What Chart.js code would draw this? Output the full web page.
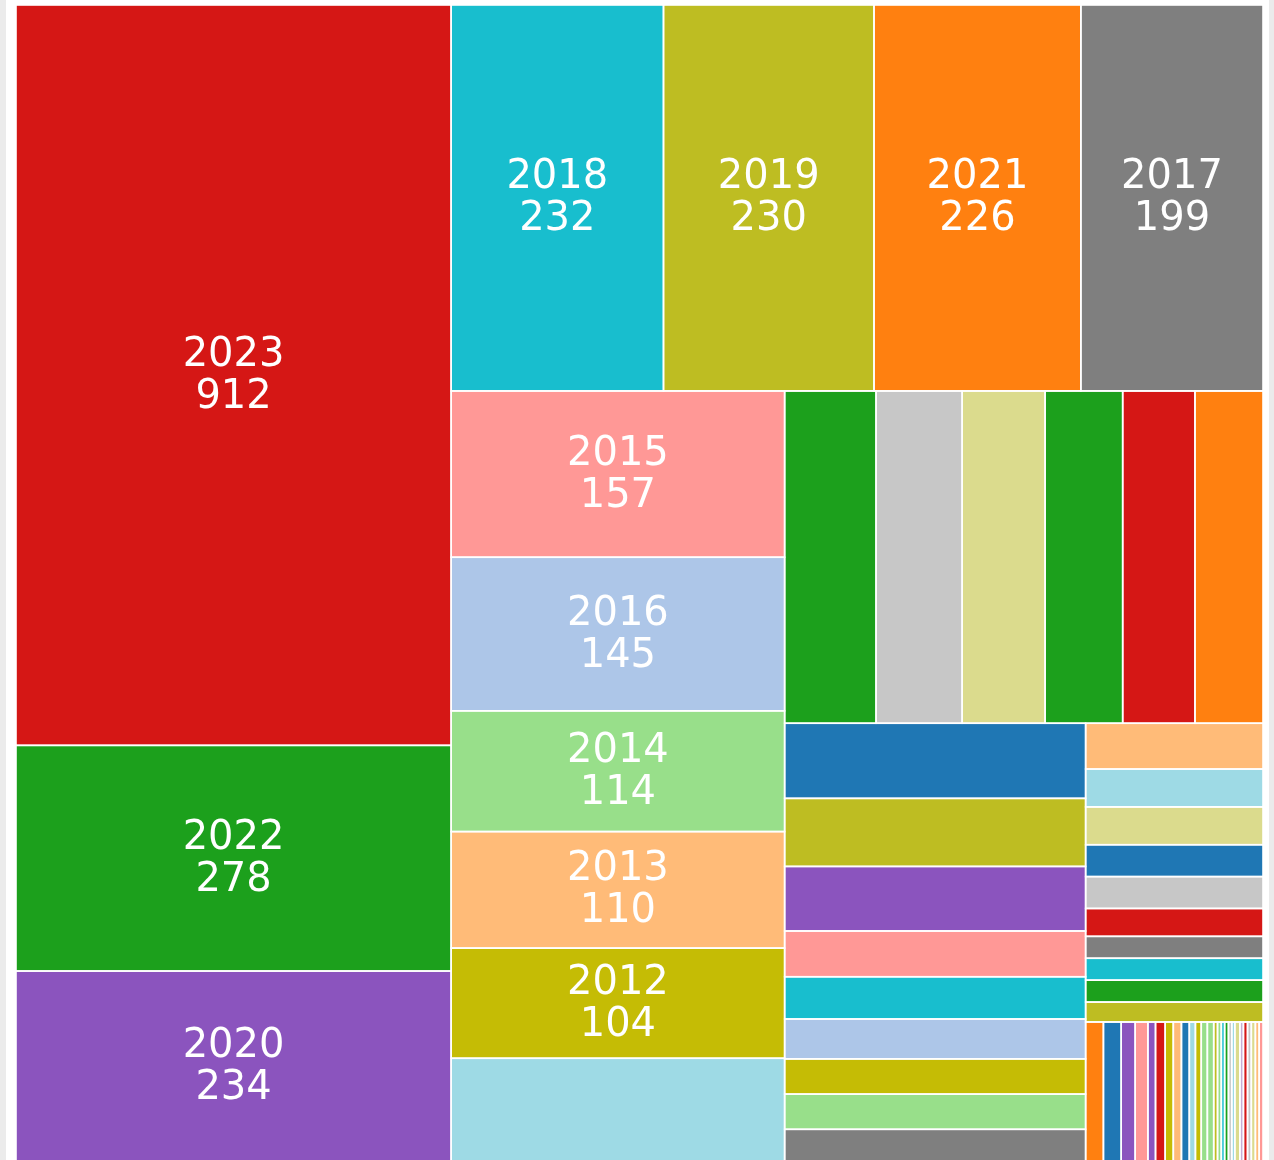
<!DOCTYPE html>
<html>
<head>
<meta charset="utf-8">
<title>Treemap</title>
<script src="https://cdn.jsdelivr.net/npm/chart.js@4.4.1/dist/chart.umd.min.js"></script>
<style>
  html, body { margin: 0; padding: 0; background: #fff; overflow: hidden; }
  .frame {
    width: 1263px; height: 1160px; overflow: hidden;
    border-left: 6px solid #ebebeb; border-right: 5px solid #ebebeb;
  }
  .chart-wrap { position: relative; width: 1263px; height: 1161px; }
</style>
</head>
<body>
<div class="frame"><div class="chart-wrap"><canvas id="treemap"></canvas></div></div>
<script>
// ── Data ───────────────────────────────────────────────────────────────────
// labelled cells (largest first)
const years      = ["2023", "2022", "2020", "2018", "2019", "2021", "2017", "2015", "2016", "2014", "2013", "2012"];
const yearCounts = [912, 278, 234, 232, 230, 226, 199, 157, 145, 114, 110, 104];
const yearColors = ["#d51715", "#1ca01c", "#8b54be", "#18bece", "#bebd22", "#ff8010", "#7f7f7f",
                    "#ff9896", "#adc6e8", "#98df8a", "#ffbb78", "#c5bc05"];

// unlabelled cells, in layout order
const otherCounts = [97,
  86, 81, 78, 73, 68, 64,
  64, 58, 55, 39, 36, 34, 30, 30, 27,
  23, 19, 19, 16, 16, 14, 11, 11, 11, 10,
  7, 7, 5.5, 5, 3, 3.8, 3.2, 3.2, 3.1, 2.4, 2.3, 2.4, 2.5,
  1.5, 1.5, 1.3, 1.5, 1.3, 1.2, 2, 1.4, 1.6, 1.5, 1.6, 1.5, 1.5];
const otherColors = ["#9edae5",
  "#1ca01c", "#c7c7c7", "#dbdb8d", "#1ca01c", "#d51715", "#ff8010",
  "#1f77b4", "#bebd22", "#8b54be", "#ff9896", "#18bece", "#adc6e8", "#c5bc05", "#98df8a", "#7f7f7f",
  "#ffbb78", "#9edae5", "#dbdb8d", "#1f77b4", "#c7c7c7", "#d51715", "#7f7f7f", "#18bece", "#1ca01c", "#bebd22",
  "#ff8010", "#1f77b4", "#8b54be", "#ff9896", "#8b54be", "#d51715", "#c5bc05", "#ffbb78", "#1f77b4",
  "#9edae5", "#c5bc05", "#98df8a", "#98df8a",
  "#bebd22", "#98df8a", "#18bece", "#1ca01c", "#c7c7c7", "#9edae5", "#dbdb8d", "#c5b0d5",
  "#d51715", "#c7c7c7", "#dbdb8d", "#ffbb78", "#ff9896"];

// how many cells go into each strip, and whether the strip is a
// vertical band on the left ("v") or a horizontal band on top ("h")
const stripSizes = [3, 4, 6, 6, 9, 1, 1, 1, 1, 1, 1, 1, 1, 1, 1, 26];
const stripDirs  = ["v", "h", "v", "h", "v", "h", "h", "h", "h", "h", "h", "h", "h", "h", "h", "h"];

const allCounts = yearCounts.concat(otherCounts);
const allColors = yearColors.concat(otherColors);

// ── Strip layout in scale units (0..1 on both axes) ───────────────────────
function stripLayout(vals, sizes, dirs) {
  let rem = vals.reduce((a, b) => a + b, 0);
  let x = 0, y = 0, w = 1, h = 1;
  let i = 0;
  const rects = [];
  sizes.forEach((n, si) => {
    const items = vals.slice(i, i + n);
    const s = items.reduce((a, b) => a + b, 0);
    if (dirs[si] === "v") {
      const cw = w * s / rem;
      let yy = y;
      items.forEach((v) => { const d = h * v / s; rects.push({ x0: x, x1: x + cw, y0: yy, y1: yy + d }); yy += d; });
      x += cw; w -= cw;
    } else {
      const rh = h * s / rem;
      let xx = x;
      items.forEach((v) => { const d = w * v / s; rects.push({ x0: xx, x1: xx + d, y0: y, y1: y + rh }); xx += d; });
      y += rh; h -= rh;
    }
    rem -= s;
    i += n;
  });
  return rects;
}

const treemapPlugin = {
  id: "treemapCells",
  afterDatasetsDraw(chart) {
    const { ctx, scales } = chart;
    const xs = scales.x, ys = scales.y;
    const rects = stripLayout(allCounts, stripSizes, stripDirs);
    const px = rects.map((r) => ({
      l: xs.getPixelForValue(r.x0), r: xs.getPixelForValue(r.x1),
      t: ys.getPixelForValue(r.y0), b: ys.getPixelForValue(r.y1),
    }));

    ctx.save();
    px.forEach((p, k) => {
      ctx.fillStyle = allColors[k];
      ctx.fillRect(p.l, p.t, p.r - p.l, p.b - p.t);
    });
    ctx.strokeStyle = "#ffffff";
    ctx.lineWidth = 1.6;
    px.forEach((p) => ctx.strokeRect(p.l, p.t, p.r - p.l, p.b - p.t));

    ctx.fillStyle = "#ffffff";
    ctx.font = '40px "DejaVu Sans"';
    ctx.textAlign = "center";
    ctx.textBaseline = "alphabetic";
    years.forEach((yr, k) => {
      const p = px[k];
      const cx = (p.l + p.r) / 2;
      const cy = (p.t + p.b) / 2;
      ctx.fillText(yr, cx, cy - 9.5);
      ctx.fillText(String(yearCounts[k]), cx, cy + 32.5);
    });
    ctx.restore();
  },
};

new Chart(document.getElementById("treemap"), {
  type: "scatter",
  data: { datasets: [{ data: [] }] },
  options: {
    responsive: true,
    maintainAspectRatio: false,
    animation: false,
    layout: { padding: { left: 10, top: 5, right: 6, bottom: 0 } },
    scales: {
      x: { display: false, min: 0, max: 1 },
      y: { display: false, min: 0, max: 1, reverse: true },
    },
    plugins: { legend: { display: false }, tooltip: { enabled: false } },
  },
  plugins: [treemapPlugin],
});
</script>
</body>
</html>
